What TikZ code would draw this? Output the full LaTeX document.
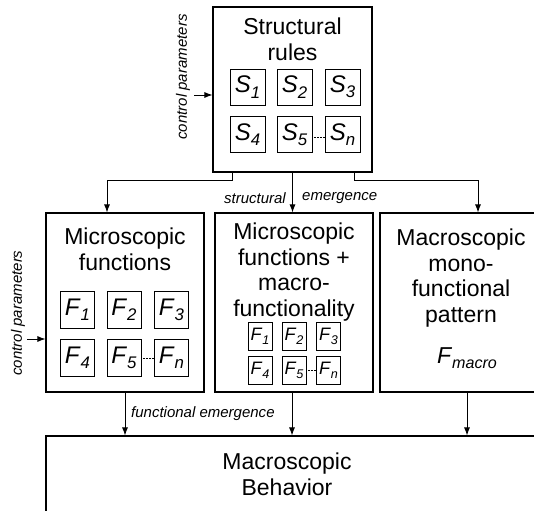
\documentclass[tikz,border=0pt]{standalone}
\usepackage{fontspec}
\setmainfont{Liberation Sans}
\usepackage{tikz}
\usetikzlibrary{arrows.meta,positioning}
\newcommand{\lbl}[2]{\textit{#1}\raisebox{-0.22em}{\scalebox{0.7}{\textit{#2}}}}

\begin{document}
\begin{tikzpicture}[x=1pt,y=-1pt]
\tikzstyle{bigbox}=[draw,line width=1.1pt,inner sep=0pt]
\tikzstyle{cell}=[draw,line width=0.9pt,minimum width=35pt,minimum height=36pt,inner sep=0pt,font=\fontsize{24}{24}\selectfont]
\tikzstyle{smallcell}=[cell,minimum width=24pt,minimum height=28pt,font=\fontsize{18}{18}\selectfont]
\tikzstyle{title}=[align=center,anchor=north,inner sep=0pt,font=\fontsize{23}{25.5}\selectfont]
\tikzstyle{note}=[font=\itshape\fontsize{15}{15}\selectfont,inner sep=0pt]
\tikzstyle{flow}=[line width=0.9pt,-{Latex[length=8pt,width=6pt]}]
\tikzstyle{etc}=[densely dotted,line width=0.5pt]
    \useasboundingbox (0,0) rectangle (534,510);
    \clip (0,0) rectangle (534,510);
	% boxes
    \node[bigbox,minimum width=159pt,minimum height=165pt] (rules) at (292.5,89.5) {};
    \node[bigbox,minimum width=158pt,minimum height=179pt] (micro) at (125,302.5) {};
    \node[bigbox,minimum width=158pt,minimum height=179pt] (mixed) at (294,302.5) {};
    \node[bigbox,minimum width=170pt,minimum height=179pt] (mono) at (465,302.5) {};
    \node[bigbox,minimum width=520pt,minimum height=100pt] (behav) at (306,486) {};
    \node[title] (rulestitle) at (292.5,18) {Structural\\rules};
    \node[title] (microtitle) at (125,228) {Microscopic\\functions};
    \node[title] (mixedtitle) at (294,223) {Microscopic\\functions +\\macro-\\functionality};
    \node[title] (monotitle) at (461,229) {Macroscopic\\mono-\\functional\\pattern};
    \node[title] (behavtitle) at (287,453) {Macroscopic\\Behavior};
    \node[font=\fontsize{23}{23}\selectfont] (fmacro) at (467,358) {\lbl{F}{macro}};
	% rules and functions
    \foreach \i/\x/\y in {1/247.5/87,2/294.5/87,3/342.5/87,4/247.5/134.5,5/294.5/134.5,n/342.5/134.5}
        \node[cell] (s\i) at (\x,\y) {\lbl{S}{\i}};
    \foreach \i/\x/\y in {1/77.5/310,2/124/310,3/171.5/310,4/77.5/358,5/124/358,n/171.5/358}
        \node[cell,minimum width=34pt,minimum height=37pt] (fa\i) at (\x,\y) {\lbl{F}{\i}};
    \foreach \i/\x/\y in {1/260/336,2/294/336,3/328.5/336,4/260/370.5,5/294/370.5,n/328.5/370.5}
        \node[smallcell] (fb\i) at (\x,\y) {\lbl{F}{\i}};
    \draw[etc] ([yshift=-3pt]s5.east) -- ([yshift=-3pt]sn.west);
    \draw[etc] (fa5.east) -- (fan.west);
    \draw[etc] (fb5.east) -- (fbn.west);
	% inputs
    \node[note,rotate=90] (cptop) at (183,77) {control parameters};
    \node[note,rotate=90] (cpleft) at (18,313) {control parameters};
    \draw[flow] ([xshift=-18pt,yshift=-5.5pt]rules.west) -- ([yshift=-5.5pt]rules.west);
    \draw[flow] ([xshift=-18pt,yshift=-36.5pt]micro.west) -- ([yshift=-36.5pt]micro.west);
	% emergence
    \draw[flow] ([xshift=-60.5pt]rules.south) -- ++(0,8) -| ([xshift=-18pt]micro.north);
    \draw[flow] (rules.south) -- (rules.south |- mixed.north);
    \draw[flow] ([xshift=61.5pt]rules.south) -- ++(0,8) -| ([xshift=13pt]mono.north);
    \node[note,anchor=east] (se1) at (286,198) {structural};
    \node[note,anchor=west] (se2) at (302,198) {emergence};
    \draw[flow] (micro.south) -- (micro.south |- behav.north);
    \draw[flow] ([xshift=-2pt]mixed.south) -- ([xshift=-2pt]mixed.south |- behav.north);
    \draw[flow] ([xshift=2pt]mono.south) -- ([xshift=2pt]mono.south |- behav.north);
    \node[note,anchor=west] (fe) at (131,414) {functional emergence};
%    \node at (behav) {};
\end{tikzpicture}
\end{document}
